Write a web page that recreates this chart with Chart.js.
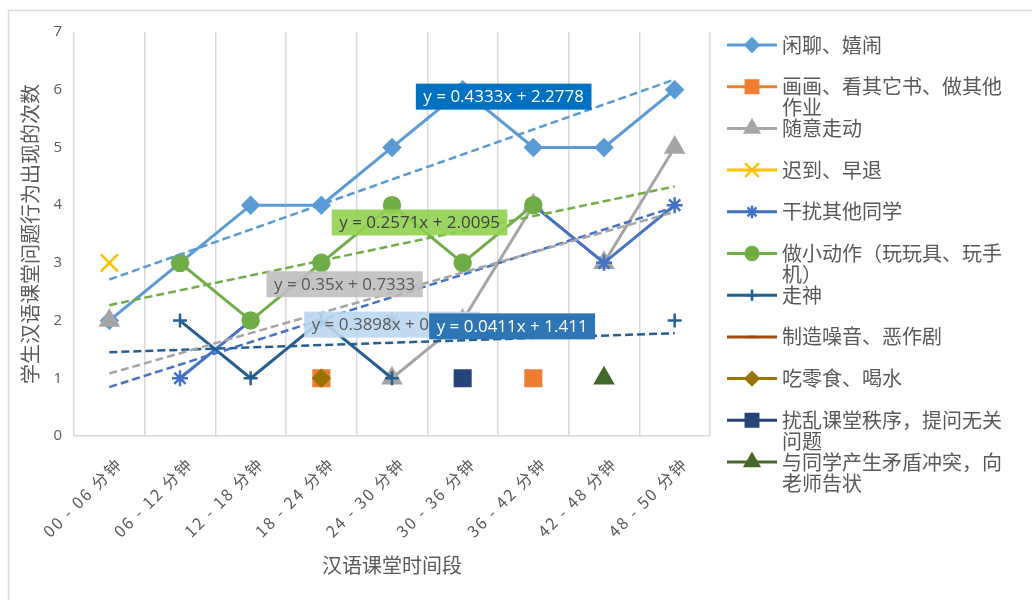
<!DOCTYPE html>
<html>
<head>
<meta charset="utf-8">
<script src="https://cdn.jsdelivr.net/npm/chart.js@4/dist/chart.umd.min.js"></script>
<style>
  html, body { margin: 0; background: #fff; }
  #wrap { width: 1032px; height: 600px; }
</style>
</head>
<body>
<div id="wrap"><canvas id="chart" width="1032" height="600"></canvas></div>
<script>
// ===== data =====
const categories = ["00 - 06 分钟", "06 - 12 分钟", "12 - 18 分钟", "18 - 24 分钟", "24 - 30 分钟",
                    "30 - 36 分钟", "36 - 42 分钟", "42 - 48 分钟", "48 - 50 分钟"];
const chatting     = [2, 3, 4, 4, 5, 6, 5, 5, 6];
const drawing      = [null, null, null, 1, null, null, 1, null, null];
const wandering    = [2, null, null, null, 1, 2, 4, 3, 5];
const lateEarly    = [3, null, null, null, null, null, null, null, null];
const disturbing   = [null, 1, 2, null, 2, null, 4, 3, 4];
const fidgeting    = [null, 3, 2, 3, 4, 3, 4, null, null];
const absentMinded = [null, 2, 1, 2, 1, null, null, null, 2];
const makingNoise  = [null, null, null, null, null, null, null, null, null];
const snacking     = [null, null, null, 1, null, null, null, null, null];
const disorder     = [null, null, null, null, null, 1, null, null, null];
const conflict     = [null, null, null, null, null, null, null, 1, null];
const yTicks = [0, 1, 2, 3, 4, 5, 6, 7];

const CJK = '"Noto Sans CJK SC", "Noto Sans", sans-serif';
const TXT = '#595959';

// name, values, colour, marker, marker radius
const series = [
  ["闲聊、嬉闹", chatting, "#5B9BD5", "rectRot", 8],
  ["画画、看其它书、做其他作业", drawing, "#ED7D31", "rect", 11],
  ["随意走动", wandering, "#A5A5A5", "triangle", 10],
  ["迟到、早退", lateEarly, "#FFC000", "crossRot", 12],
  ["干扰其他同学", disturbing, "#4472C4", "star", 8],
  ["做小动作（玩玩具、玩手机）", fidgeting, "#70AD47", "circle", 8],
  ["走神", absentMinded, "#255E91", "cross", 7],
  ["制造噪音、恶作剧", makingNoise, "#9E480E", "line", 4],
  ["吃零食、喝水", snacking, "#997300", "rectRot", 8],
  ["扰乱课堂秩序，提问无关问题", disorder, "#264478", "rect", 11],
  ["与同学产生矛盾冲突，向老师告状", conflict, "#43682B", "triangle", 10]
];

// trendline labels: series index, label centre in data units, box colours
const trendLabels = [
  { s: 0, at: [5.58, 5.88], bg: "#0070C0", fg: "#ffffff" },
  { s: 5, at: [4.39, 3.70], bg: "rgba(146,208,80,0.9)", fg: "#404040" },
  { s: 2, at: [3.33, 2.63], bg: "rgba(191,191,191,0.9)", fg: "#595959" },
  { s: 4, at: [4.00, 1.93], bg: "rgba(189,215,238,0.9)", fg: "#595959" },
  { s: 6, at: [5.70, 1.90], bg: "#2E75B6", fg: "#ffffff" }
];

// ===== helpers =====
function fit(vals){
  let n=0,sx=0,sy=0,sxx=0,sxy=0;
  vals.forEach((v,i)=>{ if(v==null) return; const x=i+1; n++; sx+=x; sy+=v; sxx+=x*x; sxy+=x*v; });
  const m=(n*sxy-sx*sy)/(n*sxx-sx*sx);
  return { m, b:(sy-m*sx)/n };
}
const fmt = v => String(+v.toFixed(4));

const datasets = series.map((s,i)=>({
  label: s[0], data: s[1], borderColor: s[2], backgroundColor: s[2],
  pointStyle: s[3], pointRadius: s[4], pointHoverRadius: s[4], pointBorderWidth: 2.5,
  borderWidth: 3, tension: 0, spanGaps: false, order: 100 - i, isSeries: true
}));

const fits = {};
trendLabels.forEach(t=>{
  const s = series[t.s];
  const f = fit(s[1]);
  fits[t.s] = f;
  datasets.push({
    label: s[0] + " trend",
    data: categories.map((_,i)=> (i===0 || i===categories.length-1) ? f.m*(i+1)+f.b : null),
    borderColor: s[2], borderWidth: 2.5, borderDash: [8,4], pointRadius: 0,
    spanGaps: true, tension: 0, order: 0
  });
});

// ===== plugin: border, legend, trend labels =====
const extras = {
  id: "extras",
  beforeDraw(chart){
    const ctx = chart.ctx;
    ctx.save();
    ctx.strokeStyle = "#D9D9D9"; ctx.lineWidth = 1.5;
    ctx.strokeRect(8.5, 10.5, 1100, 700);
    ctx.restore();
  },
  afterDraw(chart){
    const ctx = chart.ctx;
    const xs = chart.scales.x, ys = chart.scales.y;
    ctx.save();
    // trend labels
    ctx.font = '17px "Open Sans", sans-serif';
    ctx.textBaseline = "middle"; ctx.textAlign = "center";
    trendLabels.forEach(t=>{
      const f = fits[t.s];
      const txt = `y = ${fmt(f.m)}x + ${fmt(f.b)}`;
      const cx = xs.getPixelForValue(t.at[0]), cy = ys.getPixelForValue(t.at[1]);
      const w = ctx.measureText(txt).width + 15, h = 26;
      ctx.fillStyle = t.bg; ctx.fillRect(cx - w/2, cy - h/2, w, h);
      ctx.fillStyle = t.fg; ctx.fillText(txt, cx, cy + 1);
    });
    // legend
    ctx.font = "20px " + CJK;
    ctx.textAlign = "left";
    const metas = chart.data.datasets.filter(d=>d.isSeries);
    metas.forEach((d,i)=>{
      const y = 45 + i*41.7;
      ctx.strokeStyle = d.borderColor; ctx.lineWidth = 3; ctx.setLineDash([]);
      ctx.beginPath(); ctx.moveTo(727, y); ctx.lineTo(777, y); ctx.stroke();
      ctx.fillStyle = d.backgroundColor; ctx.lineWidth = 2.5;
      Chart.helpers.drawPoint(ctx, { pointStyle: d.pointStyle, radius: d.pointRadius*0.8, rotation: 0, borderWidth: 2.5 }, 752, y);
      // wrap
      const lines = []; let cur = "";
      for (const ch of d.label){
        if (ctx.measureText(cur + ch).width > 226){ lines.push(cur); cur = ch; } else cur += ch;
      }
      lines.push(cur);
      ctx.fillStyle = TXT;
      lines.forEach((ln,k)=> ctx.fillText(ln, 782, y + k*21));
    });
    ctx.restore();
  }
};

const chart = new Chart(document.getElementById("chart"), {
  type: "line",
  data: { labels: categories, datasets },
  plugins: [extras],
  options: {
    responsive: false, animation: false,
    layout: { padding: { left: 14, top: 32, right: 322, bottom: 10 } },
    plugins: { legend: { display: false }, tooltip: { enabled: false } },
    scales: {
      x: {
        offset: true,
        grid: { offset: true, color: "#D9D9D9", lineWidth: 1.5, drawTicks: false },
        border: { color: "#D9D9D9", width: 1.5 },
        ticks: { color: TXT, font: { size: 16, family: CJK }, maxRotation: 45, minRotation: 45,
                 autoSkip: false, padding: 18, labelOffset: 10 },
        title: { display: true, text: "汉语课堂时间段", color: TXT, font: { size: 20, family: CJK },
                 padding: { top: 0, bottom: 13 } },
        afterFit(s){ s.height = 154; }
      },
      y: {
        min: 0, max: 7,
        afterBuildTicks(s){ s.ticks = yTicks.map(v=>({ value: v })); },
        grid: { display: false },
        border: { display: false },
        ticks: { color: TXT, font: { size: 15, family: '"Open Sans", sans-serif' }, padding: 4 },
        title: { display: true, text: "学生汉语课堂问题行为出现的次数", color: TXT,
                 font: { size: 20, family: CJK }, padding: { top: 4, bottom: 0 } },
        afterFit(s){ s.width = 60; }
      }
    }
  }
});

// the category labels are drawn letter-spaced, as in the original
const xScale = chart.scales.x;
const baseDrawLabels = xScale.drawLabels;
xScale.drawLabels = function(area){
  const c = this.ctx; c.save(); c.letterSpacing = "2px"; baseDrawLabels.call(this, area); c.restore();
};
chart.draw();
</script>
</body>
</html>
